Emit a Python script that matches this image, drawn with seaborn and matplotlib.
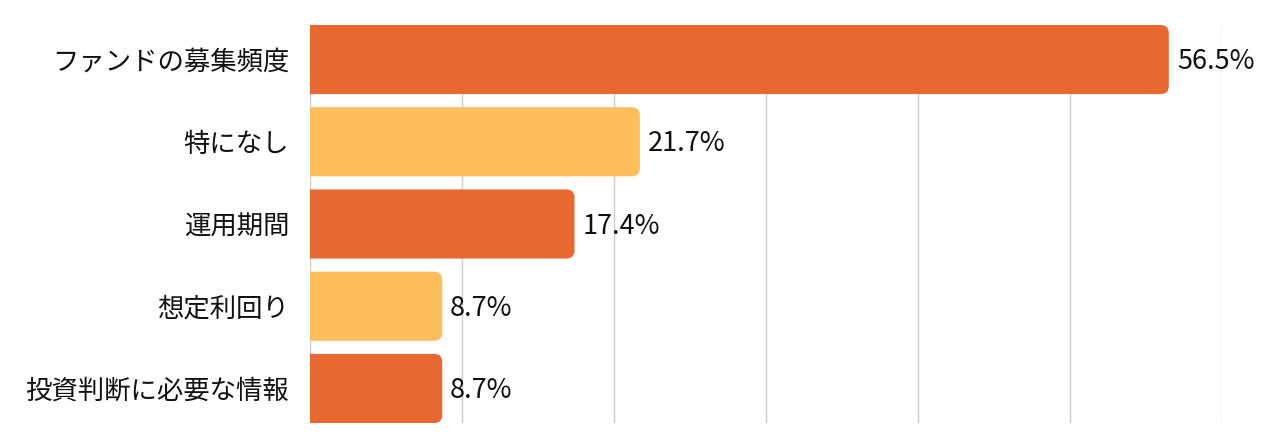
import matplotlib
matplotlib.use("Agg")
import matplotlib.pyplot as plt
import seaborn as sns
import pandas as pd
from matplotlib.patches import FancyBboxPatch

# data
categories = ["ファンドの募集頻度", "特になし", "運用期間", "想定利回り", "投資判断に必要な情報"]
values = [56.5, 21.7, 17.4, 8.7, 8.7]
value_labels = ["56.5%", "21.7%", "17.4%", "8.7%", "8.7%"]
bar_colors = ["#E86832", "#FDBE5B", "#E86832", "#FDBE5B", "#E86832"]

sns.set_theme(style="white")
plt.rcParams["font.family"] = ["Noto Sans CJK JP", "DejaVu Sans"]

df = pd.DataFrame({"項目": categories, "割合": values})

W, H = 1280, 446
fig = plt.figure(figsize=(W / 100, H / 100), dpi=100)
left, right, top, bottom = 310, 1222, 25, 423
ax = fig.add_axes([left / W, 1 - bottom / H, (right - left) / W, (bottom - top) / H])

bar_w = 0.84
sns.barplot(data=df, x="割合", y="項目", hue="項目", palette=bar_colors,
            legend=False, width=bar_w, saturation=1, ax=ax)

xmax = 60
ax.set_xlim(0, xmax)
ax.set_ylim(len(categories) - 1 + bar_w / 2, -bar_w / 2)

# swap the plain bars for ones with rounded right corners
px_x = (right - left) / xmax
px_y = (bottom - top) / (len(categories) - 1 + bar_w)
radius_px = 8
for p in list(ax.patches):
    x, y = p.get_x(), p.get_y()
    w, h = p.get_width(), p.get_height()
    fc = p.get_facecolor()
    p.set_visible(False)
    rb = FancyBboxPatch((x - 3, y), w + 3, h,
                        boxstyle=f"round,pad=0,rounding_size={radius_px / px_x}",
                        mutation_aspect=px_x / px_y,
                        fc=fc, ec="none", zorder=2)
    ax.add_patch(rb)

for i, (v, lbl) in enumerate(zip(values, value_labels)):
    ax.annotate(lbl, xy=(v, i), xytext=(8, -2), textcoords="offset pixels",
                va="center", ha="left", fontsize=19.5, color="#111111")

ax.set_xticks(range(0, xmax + 1, 10))
ax.xaxis.grid(True, color="#cccccc", linewidth=1)
ax.yaxis.grid(False)
ax.set_axisbelow(True)
ax.tick_params(axis="x", labelbottom=False, length=0)
ax.tick_params(axis="y", length=0, pad=15, labelsize=19, labelcolor="#111111")
ax.set_xlabel("")
ax.set_ylabel("")
sns.despine(ax=ax, left=True, bottom=True)

fig.savefig("out.png", dpi=100)
